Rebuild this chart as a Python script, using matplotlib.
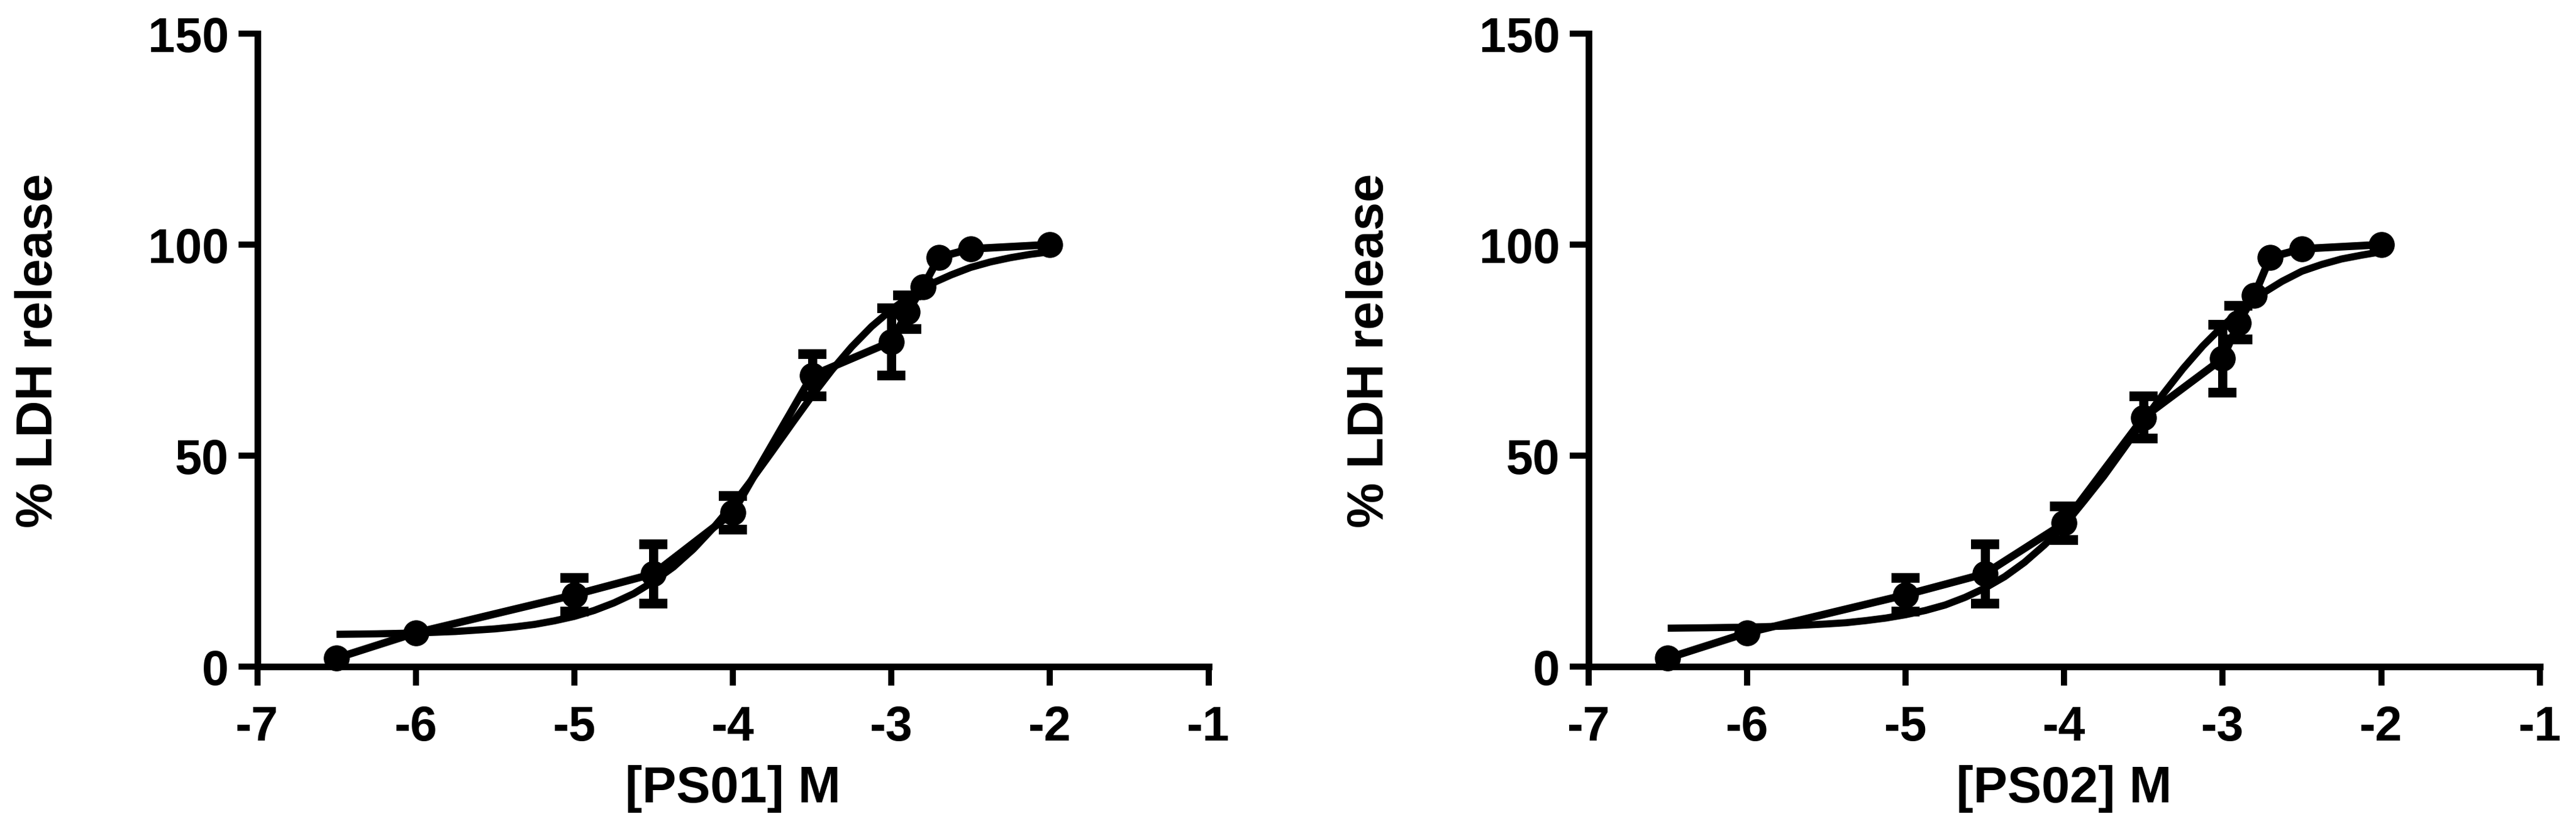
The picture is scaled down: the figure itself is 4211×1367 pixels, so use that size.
import numpy as np
import matplotlib
matplotlib.use("Agg")
import matplotlib.pyplot as plt

plt.rcParams['font.family'] = ['Liberation Sans', 'DejaVu Sans']
plt.rcParams['font.weight'] = 'bold'
plt.rcParams['axes.unicode_minus'] = False

# ---- data (log10 molar concentration vs % LDH release) ----
log_conc = [-6.5, -6.0, -5.0, -4.5, -4.0, -3.5, -3.0, -2.9, -2.8, -2.7, -2.5, -2.0]

ps01_mean = [2, 8, 17, 22, 36.5, 69, 77, 84, 90, 97, 99, 100]
ps01_sd = [0, 0, 4, 7, 4, 5, 8, 4, 0, 0, 0, 0]

ps02_mean = [2, 8, 17, 22, 34, 59, 73, 81.5, 88, 97, 99, 100]
ps02_sd = [0, 0, 4, 7, 4, 5, 8, 4, 0, 0, 0, 0]

# fitted dose-response curves
fit_x = [-6.5, -6.25, -6.0, -5.75, -5.5, -5.375, -5.25, -5.125, -5.0, -4.875,
         -4.75, -4.625, -4.5, -4.375, -4.25, -4.125, -4.0, -3.875, -3.75,
         -3.625, -3.5, -3.375, -3.25, -3.125, -3.0, -2.875, -2.75, -2.625,
         -2.5, -2.375, -2.25, -2.125, -2.0]
ps01_fit = [7.65, 7.76, 7.96, 8.32, 8.94, 9.41, 10.0, 10.85, 11.9, 13.3,
            15.1, 17.3, 20.2, 23.6, 27.8, 32.8, 38.4, 44.6, 51.1,
            57.7, 64.2, 70.3, 75.8, 80.6, 84.6, 88.0, 90.7, 92.8,
            94.6, 95.9, 96.9, 97.7, 98.3]
ps02_fit = [9.1, 9.2, 9.35, 9.6, 10.1, 10.4, 10.9, 11.5, 12.3, 13.3,
            14.6, 16.4, 18.6, 21.3, 24.7, 28.8, 33.4, 39.2, 45.1,
            51.6, 58.2, 64.6, 70.6, 76.0, 80.7, 84.9, 88.4, 91.3,
            93.7, 95.3, 96.6, 97.5, 98.3]

compounds = ["[PS01] M", "[PS02] M"]
means = [ps01_mean, ps02_mean]
sds = [ps01_sd, ps02_sd]
fits = [ps01_fit, ps02_fit]

x_ticks = [-7, -6, -5, -4, -3, -2, -1]
y_ticks = [0, 50, 100, 150]

W, H = 4211, 1368
fig = plt.figure(figsize=(W / 300, H / 300), dpi=300)
fig.patch.set_facecolor('white')

ax_lefts = [420.5 / W, 2596.7 / W]
ax_w = 1555 / W
ax_b = (H - 1091) / H
ax_h = 1035 / H

for i in range(2):
    ax = fig.add_axes([ax_lefts[i], ax_b, ax_w, ax_h])
    x = np.array(log_conc)
    y = np.array(means[i])
    e = np.array(sds[i])
    m = e > 0

    # fitted curve
    ax.plot(fit_x, fits[i], color='black', lw=2.8, solid_capstyle='butt',
            solid_joinstyle='round', clip_on=False, zorder=3)
    # connecting line with markers
    ax.plot(x, y, color='black', lw=3.0, marker='o', markersize=10.2,
            markeredgewidth=0, clip_on=False, zorder=4)
    # error bars
    ax.errorbar(x[m], y[m], yerr=e[m], fmt='none', ecolor='black',
                elinewidth=3.6, capsize=5.6, capthick=3.8, clip_on=False,
                zorder=4)

    ax.set_xlim(-7, -1)
    ax.set_ylim(0, 150)
    ax.set_xticks(x_ticks)
    ax.set_xticklabels([str(t) for t in x_ticks])
    ax.set_yticks(y_ticks)
    ax.set_yticklabels([str(t) for t in y_ticks])

    for s in ['top', 'right']:
        ax.spines[s].set_visible(False)
    for s in ['left', 'bottom']:
        ax.spines[s].set_linewidth(2.6)
        ax.spines[s].set_capstyle('projecting')

    ax.tick_params(axis='both', which='major', width=2.4, length=7.4,
                   direction='out', labelsize=19, color='black')
    ax.tick_params(axis='x', pad=7.5)
    ax.tick_params(axis='y', pad=3.8)
    for lab in ax.get_xticklabels() + ax.get_yticklabels():
        lab.set_fontweight('bold')

    ax.set_xlabel(compounds[i], fontsize=20, fontweight='bold')
    ax.set_ylabel('% LDH release', fontsize=20, fontweight='bold')
    ax.xaxis.set_label_coords(0.5, -0.155)
    ax.yaxis.set_label_coords(-0.205, 0.5)
    ax.patch.set_alpha(0)

fig.savefig('out.png', dpi=300, facecolor='white')
